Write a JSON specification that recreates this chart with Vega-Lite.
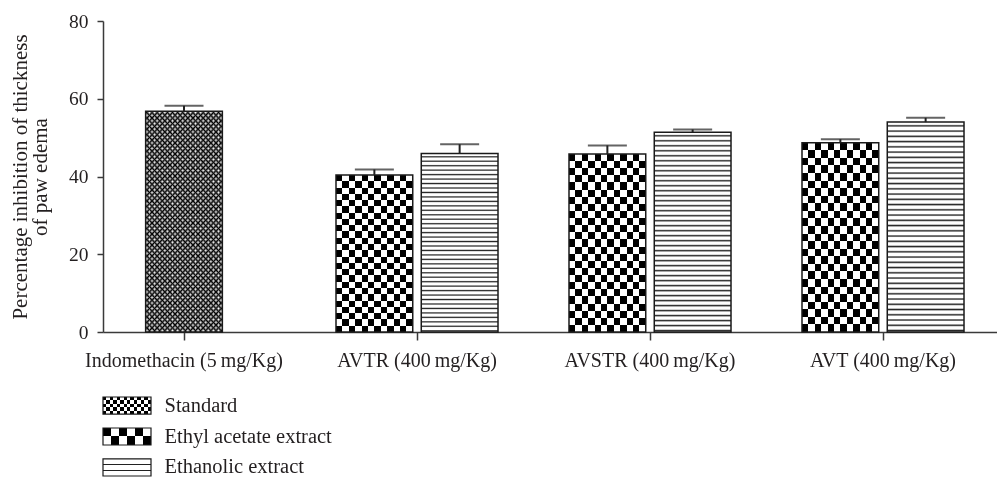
{
  "$schema": "https://vega.github.io/schema/vega-lite/v6.json",
  "padding": {"left": 9, "top": 11, "right": 0, "bottom": 0},
  "config": {
    "view": {"stroke": null},
    "font": "Liberation Serif",
    "axis": {"labelColor": "#231f20", "titleColor": "#231f20", "domainColor": "#3a3a3a", "tickColor": "#3a3a3a", "domainWidth": 1.5, "tickWidth": 1.5, "grid": false, "labelFont": "Liberation Serif", "titleFont": "Liberation Serif"}
  },
  "datasets": {
    "bars": [
      {"group": "Indomethacin (5\u2009mg/Kg)", "series": "Standard", "value": 56.8, "upper": 58.2},
      {"group": "AVTR (400\u2009mg/Kg)", "series": "Ethyl acetate extract", "value": 40.4, "upper": 41.8},
      {"group": "AVTR (400\u2009mg/Kg)", "series": "Ethanolic extract", "value": 45.9, "upper": 48.3},
      {"group": "AVSTR (400\u2009mg/Kg)", "series": "Ethyl acetate extract", "value": 45.8, "upper": 48.0},
      {"group": "AVSTR (400\u2009mg/Kg)", "series": "Ethanolic extract", "value": 51.4, "upper": 52.1},
      {"group": "AVT (400\u2009mg/Kg)", "series": "Ethyl acetate extract", "value": 48.7, "upper": 49.6},
      {"group": "AVT (400\u2009mg/Kg)", "series": "Ethanolic extract", "value": 54.0, "upper": 55.1}
    ],
    "legend": [
      {"series": "Standard"},
      {"series": "Ethyl acetate extract"},
      {"series": "Ethanolic extract"}
    ]
  },
  "bounds": "flush",
  "spacing": 65,
  "vconcat": [
    {
      "width": 894,
      "height": 311,
      "data": {"name": "bars"},
      "encoding": {
        "x": {
          "field": "group", "type": "nominal",
          "sort": ["Indomethacin (5\u2009mg/Kg)", "AVTR (400\u2009mg/Kg)", "AVSTR (400\u2009mg/Kg)", "AVT (400\u2009mg/Kg)"],
          "scale": {"domain": ["Indomethacin (5\u2009mg/Kg)", "AVTR (400\u2009mg/Kg)", "AVSTR (400\u2009mg/Kg)", "AVT (400\u2009mg/Kg)"], "paddingInner": 0.3047, "paddingOuter": 0.0708, "align": 0},
          "axis": {"title": null, "labelAngle": 0, "labelFontSize": 20, "tickSize": 8, "labelPadding": 10, "labelLimit": 0}
        },
        "y": {
          "field": "value", "type": "quantitative",
          "scale": {"domain": [0, 80], "nice": false},
          "axis": {"title": ["Percentage inhibition of thickness", "of paw edema"], "values": [0, 20, 40, 60, 80], "labelFontSize": 19.5, "tickSize": 6, "labelPadding": 9, "titleFontSize": 21, "titleFontWeight": "normal", "titleLineHeight": 20, "titlePadding": 18}
        }
      },
      "layer": [
        {
          "transform": [{"filter": "datum.series === 'Standard'"}],
          "mark": {"type": "bar", "width": {"band": 0.4735}, "fill": {"gradient": "linear", "x1": 0, "y1": 0, "x2": 1, "y2": 0, "stops": [
            {"offset": 0.0167, "color": "#000"}, {"offset": 0.05, "color": "#fff"}, {"offset": 0.0833, "color": "#000"}, {"offset": 0.1167, "color": "#fff"}, {"offset": 0.15, "color": "#000"}, {"offset": 0.1833, "color": "#fff"}, {"offset": 0.2167, "color": "#000"}, {"offset": 0.25, "color": "#fff"}, {"offset": 0.2833, "color": "#000"}, {"offset": 0.3167, "color": "#fff"}, {"offset": 0.35, "color": "#000"}, {"offset": 0.3833, "color": "#fff"}, {"offset": 0.4167, "color": "#000"}, {"offset": 0.45, "color": "#fff"}, {"offset": 0.4833, "color": "#000"}, {"offset": 0.5167, "color": "#fff"}, {"offset": 0.55, "color": "#000"}, {"offset": 0.5833, "color": "#fff"}, {"offset": 0.6167, "color": "#000"}, {"offset": 0.65, "color": "#fff"}, {"offset": 0.6833, "color": "#000"}, {"offset": 0.7167, "color": "#fff"}, {"offset": 0.75, "color": "#000"}, {"offset": 0.7833, "color": "#fff"}, {"offset": 0.8167, "color": "#000"}, {"offset": 0.85, "color": "#fff"}, {"offset": 0.8833, "color": "#000"}, {"offset": 0.9167, "color": "#fff"}, {"offset": 0.95, "color": "#000"}, {"offset": 0.9833, "color": "#fff"}
          ]}}
        },
        {
          "transform": [{"filter": "datum.series === 'Standard'"}],
          "mark": {"type": "bar", "width": {"band": 0.4735}, "blend": "difference", "fill": {"gradient": "linear", "x1": 0, "y1": 0, "x2": 0, "y2": 1, "stops": [
            {"offset": 0.00625, "color": "#000"}, {"offset": 0.01875, "color": "#fff"}, {"offset": 0.03125, "color": "#000"}, {"offset": 0.04375, "color": "#fff"}, {"offset": 0.05625, "color": "#000"}, {"offset": 0.06875, "color": "#fff"}, {"offset": 0.08125, "color": "#000"}, {"offset": 0.09375, "color": "#fff"}, {"offset": 0.10625, "color": "#000"}, {"offset": 0.11875, "color": "#fff"}, {"offset": 0.13125, "color": "#000"}, {"offset": 0.14375, "color": "#fff"}, {"offset": 0.15625, "color": "#000"}, {"offset": 0.16875, "color": "#fff"}, {"offset": 0.18125, "color": "#000"}, {"offset": 0.19375, "color": "#fff"}, {"offset": 0.20625, "color": "#000"}, {"offset": 0.21875, "color": "#fff"}, {"offset": 0.23125, "color": "#000"}, {"offset": 0.24375, "color": "#fff"}, {"offset": 0.25625, "color": "#000"}, {"offset": 0.26875, "color": "#fff"}, {"offset": 0.28125, "color": "#000"}, {"offset": 0.29375, "color": "#fff"}, {"offset": 0.30625, "color": "#000"}, {"offset": 0.31875, "color": "#fff"}, {"offset": 0.33125, "color": "#000"}, {"offset": 0.34375, "color": "#fff"}, {"offset": 0.35625, "color": "#000"}, {"offset": 0.36875, "color": "#fff"}, {"offset": 0.38125, "color": "#000"}, {"offset": 0.39375, "color": "#fff"}, {"offset": 0.40625, "color": "#000"}, {"offset": 0.41875, "color": "#fff"}, {"offset": 0.43125, "color": "#000"}, {"offset": 0.44375, "color": "#fff"}, {"offset": 0.45625, "color": "#000"}, {"offset": 0.46875, "color": "#fff"}, {"offset": 0.48125, "color": "#000"}, {"offset": 0.49375, "color": "#fff"}, {"offset": 0.50625, "color": "#000"}, {"offset": 0.51875, "color": "#fff"}, {"offset": 0.53125, "color": "#000"}, {"offset": 0.54375, "color": "#fff"}, {"offset": 0.55625, "color": "#000"}, {"offset": 0.56875, "color": "#fff"}, {"offset": 0.58125, "color": "#000"}, {"offset": 0.59375, "color": "#fff"}, {"offset": 0.60625, "color": "#000"}, {"offset": 0.61875, "color": "#fff"}, {"offset": 0.63125, "color": "#000"}, {"offset": 0.64375, "color": "#fff"}, {"offset": 0.65625, "color": "#000"}, {"offset": 0.66875, "color": "#fff"}, {"offset": 0.68125, "color": "#000"}, {"offset": 0.69375, "color": "#fff"}, {"offset": 0.70625, "color": "#000"}, {"offset": 0.71875, "color": "#fff"}, {"offset": 0.73125, "color": "#000"}, {"offset": 0.74375, "color": "#fff"}, {"offset": 0.75625, "color": "#000"}, {"offset": 0.76875, "color": "#fff"}, {"offset": 0.78125, "color": "#000"}, {"offset": 0.79375, "color": "#fff"}, {"offset": 0.80625, "color": "#000"}, {"offset": 0.81875, "color": "#fff"}, {"offset": 0.83125, "color": "#000"}, {"offset": 0.84375, "color": "#fff"}, {"offset": 0.85625, "color": "#000"}, {"offset": 0.86875, "color": "#fff"}, {"offset": 0.88125, "color": "#000"}, {"offset": 0.89375, "color": "#fff"}, {"offset": 0.90625, "color": "#000"}, {"offset": 0.91875, "color": "#fff"}, {"offset": 0.93125, "color": "#000"}, {"offset": 0.94375, "color": "#fff"}, {"offset": 0.95625, "color": "#000"}, {"offset": 0.96875, "color": "#fff"}, {"offset": 0.98125, "color": "#000"}, {"offset": 0.99375, "color": "#fff"}
          ]}}
        },
        {
          "transform": [{"filter": "datum.series === 'Standard'"}],
          "mark": {"type": "bar", "width": {"band": 0.4735}, "fill": "transparent", "stroke": "#1a1a1a", "strokeWidth": 1.5}
        },
        {
          "transform": [{"filter": "datum.series === 'Standard'"}],
          "mark": {"type": "rule", "strokeWidth": 2, "color": "#222"},
          "encoding": {"y2": {"field": "upper"}}
        },
        {
          "transform": [{"filter": "datum.series === 'Standard'"}],
          "mark": {"type": "tick", "thickness": 2, "size": 39, "color": "#222"},
          "encoding": {"y": {"field": "upper", "type": "quantitative", "axis": {"title": ["Percentage inhibition of thickness", "of paw edema"], "values": [0, 20, 40, 60, 80], "labelFontSize": 19.5, "tickSize": 6, "labelPadding": 9, "titleFontSize": 21, "titleFontWeight": "normal", "titleLineHeight": 20, "titlePadding": 18}}}
        },
        {
          "transform": [{"filter": "datum.series === 'Ethyl acetate extract'"}],
          "mark": {"type": "bar", "fill": {"gradient": "linear", "x1": 0, "y1": 0, "x2": 1, "y2": 0, "stops": [
            {"offset": 0, "color": "#000"}, {"offset": 0.0833, "color": "#000"}, {"offset": 0.0833, "color": "#fff"}, {"offset": 0.1667, "color": "#fff"}, {"offset": 0.1667, "color": "#000"}, {"offset": 0.25, "color": "#000"}, {"offset": 0.25, "color": "#fff"}, {"offset": 0.3333, "color": "#fff"}, {"offset": 0.3333, "color": "#000"}, {"offset": 0.4167, "color": "#000"}, {"offset": 0.4167, "color": "#fff"}, {"offset": 0.5, "color": "#fff"}, {"offset": 0.5, "color": "#000"}, {"offset": 0.5833, "color": "#000"}, {"offset": 0.5833, "color": "#fff"}, {"offset": 0.6667, "color": "#fff"}, {"offset": 0.6667, "color": "#000"}, {"offset": 0.75, "color": "#000"}, {"offset": 0.75, "color": "#fff"}, {"offset": 0.8333, "color": "#fff"}, {"offset": 0.8333, "color": "#000"}, {"offset": 0.9167, "color": "#000"}, {"offset": 0.9167, "color": "#fff"}, {"offset": 1, "color": "#fff"}
          ]}},
          "encoding": {"xOffset": {"field": "series", "type": "nominal", "scale": {"domain": ["Ethyl acetate extract", "Ethanolic extract"], "paddingInner": 0.1, "paddingOuter": 0}}}
        },
        {
          "transform": [{"filter": "datum.series === 'Ethyl acetate extract'"}],
          "mark": {"type": "bar", "blend": "difference", "fill": {"gradient": "linear", "x1": 0, "y1": 0, "x2": 0, "y2": 1, "stops": [
            {"offset": 0, "color": "#000"}, {"offset": 0.04, "color": "#000"}, {"offset": 0.04, "color": "#fff"}, {"offset": 0.08, "color": "#fff"}, {"offset": 0.08, "color": "#000"}, {"offset": 0.12, "color": "#000"}, {"offset": 0.12, "color": "#fff"}, {"offset": 0.16, "color": "#fff"}, {"offset": 0.16, "color": "#000"}, {"offset": 0.2, "color": "#000"}, {"offset": 0.2, "color": "#fff"}, {"offset": 0.24, "color": "#fff"}, {"offset": 0.24, "color": "#000"}, {"offset": 0.28, "color": "#000"}, {"offset": 0.28, "color": "#fff"}, {"offset": 0.32, "color": "#fff"}, {"offset": 0.32, "color": "#000"}, {"offset": 0.36, "color": "#000"}, {"offset": 0.36, "color": "#fff"}, {"offset": 0.4, "color": "#fff"}, {"offset": 0.4, "color": "#000"}, {"offset": 0.44, "color": "#000"}, {"offset": 0.44, "color": "#fff"}, {"offset": 0.48, "color": "#fff"}, {"offset": 0.48, "color": "#000"}, {"offset": 0.52, "color": "#000"}, {"offset": 0.52, "color": "#fff"}, {"offset": 0.56, "color": "#fff"}, {"offset": 0.56, "color": "#000"}, {"offset": 0.6, "color": "#000"}, {"offset": 0.6, "color": "#fff"}, {"offset": 0.64, "color": "#fff"}, {"offset": 0.64, "color": "#000"}, {"offset": 0.68, "color": "#000"}, {"offset": 0.68, "color": "#fff"}, {"offset": 0.72, "color": "#fff"}, {"offset": 0.72, "color": "#000"}, {"offset": 0.76, "color": "#000"}, {"offset": 0.76, "color": "#fff"}, {"offset": 0.8, "color": "#fff"}, {"offset": 0.8, "color": "#000"}, {"offset": 0.84, "color": "#000"}, {"offset": 0.84, "color": "#fff"}, {"offset": 0.88, "color": "#fff"}, {"offset": 0.88, "color": "#000"}, {"offset": 0.92, "color": "#000"}, {"offset": 0.92, "color": "#fff"}, {"offset": 0.96, "color": "#fff"}, {"offset": 0.96, "color": "#000"}, {"offset": 1, "color": "#000"}
          ]}},
          "encoding": {"xOffset": {"field": "series", "type": "nominal", "scale": {"domain": ["Ethyl acetate extract", "Ethanolic extract"], "paddingInner": 0.1, "paddingOuter": 0}}}
        },
        {
          "transform": [{"filter": "datum.series === 'Ethanolic extract'"}],
          "mark": {"type": "bar", "fill": {"gradient": "linear", "x1": 0, "y1": 0, "x2": 0, "y2": 1, "stops": [
            {"offset": 0, "color": "#fff"},
            {"offset": 0.011, "color": "#fff"}, {"offset": 0.018, "color": "#222"}, {"offset": 0.025, "color": "#fff"},
            {"offset": 0.036, "color": "#fff"}, {"offset": 0.043, "color": "#222"}, {"offset": 0.05, "color": "#fff"},
            {"offset": 0.061, "color": "#fff"}, {"offset": 0.068, "color": "#222"}, {"offset": 0.075, "color": "#fff"},
            {"offset": 0.086, "color": "#fff"}, {"offset": 0.093, "color": "#222"}, {"offset": 0.1, "color": "#fff"},
            {"offset": 0.111, "color": "#fff"}, {"offset": 0.118, "color": "#222"}, {"offset": 0.125, "color": "#fff"},
            {"offset": 0.136, "color": "#fff"}, {"offset": 0.143, "color": "#222"}, {"offset": 0.15, "color": "#fff"},
            {"offset": 0.161, "color": "#fff"}, {"offset": 0.168, "color": "#222"}, {"offset": 0.175, "color": "#fff"},
            {"offset": 0.186, "color": "#fff"}, {"offset": 0.193, "color": "#222"}, {"offset": 0.2, "color": "#fff"},
            {"offset": 0.211, "color": "#fff"}, {"offset": 0.218, "color": "#222"}, {"offset": 0.225, "color": "#fff"},
            {"offset": 0.236, "color": "#fff"}, {"offset": 0.243, "color": "#222"}, {"offset": 0.25, "color": "#fff"},
            {"offset": 0.261, "color": "#fff"}, {"offset": 0.268, "color": "#222"}, {"offset": 0.275, "color": "#fff"},
            {"offset": 0.286, "color": "#fff"}, {"offset": 0.293, "color": "#222"}, {"offset": 0.3, "color": "#fff"},
            {"offset": 0.311, "color": "#fff"}, {"offset": 0.318, "color": "#222"}, {"offset": 0.325, "color": "#fff"},
            {"offset": 0.336, "color": "#fff"}, {"offset": 0.343, "color": "#222"}, {"offset": 0.35, "color": "#fff"},
            {"offset": 0.361, "color": "#fff"}, {"offset": 0.368, "color": "#222"}, {"offset": 0.375, "color": "#fff"},
            {"offset": 0.386, "color": "#fff"}, {"offset": 0.393, "color": "#222"}, {"offset": 0.4, "color": "#fff"},
            {"offset": 0.411, "color": "#fff"}, {"offset": 0.418, "color": "#222"}, {"offset": 0.425, "color": "#fff"},
            {"offset": 0.436, "color": "#fff"}, {"offset": 0.443, "color": "#222"}, {"offset": 0.45, "color": "#fff"},
            {"offset": 0.461, "color": "#fff"}, {"offset": 0.468, "color": "#222"}, {"offset": 0.475, "color": "#fff"},
            {"offset": 0.486, "color": "#fff"}, {"offset": 0.493, "color": "#222"}, {"offset": 0.5, "color": "#fff"},
            {"offset": 0.511, "color": "#fff"}, {"offset": 0.518, "color": "#222"}, {"offset": 0.525, "color": "#fff"},
            {"offset": 0.536, "color": "#fff"}, {"offset": 0.543, "color": "#222"}, {"offset": 0.55, "color": "#fff"},
            {"offset": 0.561, "color": "#fff"}, {"offset": 0.568, "color": "#222"}, {"offset": 0.575, "color": "#fff"},
            {"offset": 0.586, "color": "#fff"}, {"offset": 0.593, "color": "#222"}, {"offset": 0.6, "color": "#fff"},
            {"offset": 0.611, "color": "#fff"}, {"offset": 0.618, "color": "#222"}, {"offset": 0.625, "color": "#fff"},
            {"offset": 0.636, "color": "#fff"}, {"offset": 0.643, "color": "#222"}, {"offset": 0.65, "color": "#fff"},
            {"offset": 0.661, "color": "#fff"}, {"offset": 0.668, "color": "#222"}, {"offset": 0.675, "color": "#fff"},
            {"offset": 0.686, "color": "#fff"}, {"offset": 0.693, "color": "#222"}, {"offset": 0.7, "color": "#fff"},
            {"offset": 0.711, "color": "#fff"}, {"offset": 0.718, "color": "#222"}, {"offset": 0.725, "color": "#fff"},
            {"offset": 0.736, "color": "#fff"}, {"offset": 0.743, "color": "#222"}, {"offset": 0.75, "color": "#fff"},
            {"offset": 0.761, "color": "#fff"}, {"offset": 0.768, "color": "#222"}, {"offset": 0.775, "color": "#fff"},
            {"offset": 0.786, "color": "#fff"}, {"offset": 0.793, "color": "#222"}, {"offset": 0.8, "color": "#fff"},
            {"offset": 0.811, "color": "#fff"}, {"offset": 0.818, "color": "#222"}, {"offset": 0.825, "color": "#fff"},
            {"offset": 0.836, "color": "#fff"}, {"offset": 0.843, "color": "#222"}, {"offset": 0.85, "color": "#fff"},
            {"offset": 0.861, "color": "#fff"}, {"offset": 0.868, "color": "#222"}, {"offset": 0.875, "color": "#fff"},
            {"offset": 0.886, "color": "#fff"}, {"offset": 0.893, "color": "#222"}, {"offset": 0.9, "color": "#fff"},
            {"offset": 0.911, "color": "#fff"}, {"offset": 0.918, "color": "#222"}, {"offset": 0.925, "color": "#fff"},
            {"offset": 0.936, "color": "#fff"}, {"offset": 0.943, "color": "#222"}, {"offset": 0.95, "color": "#fff"},
            {"offset": 0.961, "color": "#fff"}, {"offset": 0.968, "color": "#222"}, {"offset": 0.975, "color": "#fff"},
            {"offset": 0.986, "color": "#fff"}, {"offset": 0.993, "color": "#222"}, {"offset": 1, "color": "#fff"}
          ]}},
          "encoding": {"xOffset": {"field": "series", "type": "nominal", "scale": {"domain": ["Ethyl acetate extract", "Ethanolic extract"], "paddingInner": 0.1, "paddingOuter": 0}}}
        },
        {
          "transform": [{"filter": "datum.series !== 'Standard'"}],
          "mark": {"type": "bar", "fill": "transparent", "stroke": "#1a1a1a", "strokeWidth": 1.5},
          "encoding": {"xOffset": {"field": "series", "type": "nominal", "scale": {"domain": ["Ethyl acetate extract", "Ethanolic extract"], "paddingInner": 0.1, "paddingOuter": 0}}}
        },
        {
          "transform": [{"filter": "datum.series !== 'Standard'"}],
          "mark": {"type": "rule", "strokeWidth": 2, "color": "#222"},
          "encoding": {
            "xOffset": {"field": "series", "type": "nominal", "scale": {"domain": ["Ethyl acetate extract", "Ethanolic extract"], "paddingInner": 0.1, "paddingOuter": 0}},
            "y2": {"field": "upper"}
          }
        },
        {
          "transform": [{"filter": "datum.series !== 'Standard'"}],
          "mark": {"type": "tick", "thickness": 2, "size": 39, "color": "#222"},
          "encoding": {
            "xOffset": {"field": "series", "type": "nominal", "scale": {"domain": ["Ethyl acetate extract", "Ethanolic extract"], "paddingInner": 0.1, "paddingOuter": 0}},
            "y": {"field": "upper", "type": "quantitative", "axis": {"title": ["Percentage inhibition of thickness", "of paw edema"], "values": [0, 20, 40, 60, 80], "labelFontSize": 19.5, "tickSize": 6, "labelPadding": 9, "titleFontSize": 21, "titleFontWeight": "normal", "titleLineHeight": 20, "titlePadding": 18}}
          }
        }
      ]
    },
    {
      "width": 48,
      "height": 79,
      "data": {"name": "legend"},
      "encoding": {
        "y": {
          "field": "series", "type": "nominal",
          "sort": ["Standard", "Ethyl acetate extract", "Ethanolic extract"],
          "scale": {"domain": ["Standard", "Ethyl acetate extract", "Ethanolic extract"], "paddingInner": 0.45, "paddingOuter": 0},
          "axis": {"orient": "right", "title": null, "domain": false, "ticks": false, "labelPadding": 13, "labelFontSize": 20.5, "labelLimit": 0}
        }
      },
      "layer": [
        {
          "transform": [{"filter": "datum.series === 'Standard'"}],
          "mark": {"type": "bar", "fill": {"gradient": "linear", "x1": 0, "y1": 0, "x2": 1, "y2": 0, "stops": [
            {"offset": 0, "color": "#000"}, {"offset": 0.0714, "color": "#000"}, {"offset": 0.0714, "color": "#fff"}, {"offset": 0.1429, "color": "#fff"}, {"offset": 0.1429, "color": "#000"}, {"offset": 0.2143, "color": "#000"}, {"offset": 0.2143, "color": "#fff"}, {"offset": 0.2857, "color": "#fff"}, {"offset": 0.2857, "color": "#000"}, {"offset": 0.3571, "color": "#000"}, {"offset": 0.3571, "color": "#fff"}, {"offset": 0.4286, "color": "#fff"}, {"offset": 0.4286, "color": "#000"}, {"offset": 0.5, "color": "#000"}, {"offset": 0.5, "color": "#fff"}, {"offset": 0.5714, "color": "#fff"}, {"offset": 0.5714, "color": "#000"}, {"offset": 0.6429, "color": "#000"}, {"offset": 0.6429, "color": "#fff"}, {"offset": 0.7143, "color": "#fff"}, {"offset": 0.7143, "color": "#000"}, {"offset": 0.7857, "color": "#000"}, {"offset": 0.7857, "color": "#fff"}, {"offset": 0.8571, "color": "#fff"}, {"offset": 0.8571, "color": "#000"}, {"offset": 0.9286, "color": "#000"}, {"offset": 0.9286, "color": "#fff"}, {"offset": 1, "color": "#fff"}
          ]}}
        },
        {
          "transform": [{"filter": "datum.series === 'Standard'"}],
          "mark": {"type": "bar", "blend": "difference", "fill": {"gradient": "linear", "x1": 0, "y1": 0, "x2": 0, "y2": 1, "stops": [
            {"offset": 0, "color": "#000"}, {"offset": 0.2, "color": "#000"}, {"offset": 0.2, "color": "#fff"}, {"offset": 0.4, "color": "#fff"}, {"offset": 0.4, "color": "#000"}, {"offset": 0.6, "color": "#000"}, {"offset": 0.6, "color": "#fff"}, {"offset": 0.8, "color": "#fff"}, {"offset": 0.8, "color": "#000"}, {"offset": 1, "color": "#000"}
          ]}}
        },
        {
          "transform": [{"filter": "datum.series === 'Ethyl acetate extract'"}],
          "mark": {"type": "bar", "fill": {"gradient": "linear", "x1": 0, "y1": 0, "x2": 1, "y2": 0, "stops": [
            {"offset": 0, "color": "#000"}, {"offset": 0.1667, "color": "#000"}, {"offset": 0.1667, "color": "#fff"}, {"offset": 0.3333, "color": "#fff"}, {"offset": 0.3333, "color": "#000"}, {"offset": 0.5, "color": "#000"}, {"offset": 0.5, "color": "#fff"}, {"offset": 0.6667, "color": "#fff"}, {"offset": 0.6667, "color": "#000"}, {"offset": 0.8333, "color": "#000"}, {"offset": 0.8333, "color": "#fff"}, {"offset": 1, "color": "#fff"}
          ]}}
        },
        {
          "transform": [{"filter": "datum.series === 'Ethyl acetate extract'"}],
          "mark": {"type": "bar", "blend": "difference", "fill": {"gradient": "linear", "x1": 0, "y1": 0, "x2": 0, "y2": 1, "stops": [
            {"offset": 0, "color": "#000"}, {"offset": 0.5, "color": "#000"}, {"offset": 0.5, "color": "#fff"}, {"offset": 1, "color": "#fff"}
          ]}}
        },
        {
          "transform": [{"filter": "datum.series === 'Ethanolic extract'"}],
          "mark": {"type": "bar", "fill": {"gradient": "linear", "x1": 0, "y1": 0, "x2": 0, "y2": 1, "stops": [
            {"offset": 0, "color": "#fff"}, {"offset": 0.3, "color": "#fff"}, {"offset": 0.3, "color": "#222"}, {"offset": 0.36, "color": "#222"}, {"offset": 0.36, "color": "#fff"}, {"offset": 0.64, "color": "#fff"}, {"offset": 0.64, "color": "#222"}, {"offset": 0.7, "color": "#222"}, {"offset": 0.7, "color": "#fff"}, {"offset": 1, "color": "#fff"}
          ]}}
        },
        {
          "mark": {"type": "bar", "fill": "transparent", "stroke": "#1a1a1a", "strokeWidth": 1.2}
        }
      ]
    }
  ]
}
